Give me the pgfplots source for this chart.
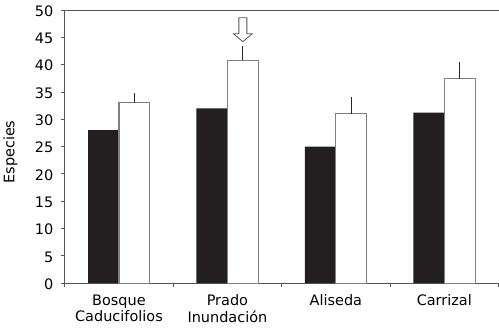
\documentclass[border=0pt]{standalone}
\usepackage{fontspec}
\setmainfont{DejaVu Sans}
\usepackage{pgfplots}
\pgfplotsset{compat=1.18}
\definecolor{barblack}{HTML}{231F20}
\definecolor{axisgray}{HTML}{555555}
\begin{document}
\begin{tikzpicture}
\begin{axis}[
  name=ax,
  scale only axis, width=435pt, height=274pt,
  xmin=0, xmax=4, ymin=0, ymax=50,
  axis y line*=left, axis x line*=box,
  xtick pos=left,
  axis line style={draw=axisgray, line width=0.9pt},
  every tick/.style={draw=axisgray, line width=0.9pt},
  tick align=outside, major tick length=4pt, minor tick length=4pt,
  ytick={0,5,...,50},
  yticklabel style={xshift=-4pt, yshift=-1pt},
  xtick={0.5,1.5,2.5,3.5},
  xticklabels={Bosque\\Caducifolios, Prado\\Inundación, Aliseda, Carrizal},
  minor xtick={0,1,2,3,4},
  every major x tick/.append style={draw=none},
  xticklabel style={align=center, anchor=north, yshift=-4pt},
  /pgf/number format/assume math mode=true,
  ticklabel style={font=\fontsize{14.5}{16.5}\selectfont},
  ylabel={Especies},
  ylabel style={font=\fontsize{14.5}{16.5}\selectfont, at={(axis description cs:0,0.48)}, anchor=south, yshift=44pt},
  clip=false,
]
\addplot[ybar, bar width=31pt, bar shift=0pt, fill=barblack, draw=none]
  coordinates {(0.3575,28) (1.3575,32) (2.3575,25) (3.3575,31.2)};
\addplot[ybar, bar width=31pt, bar shift=0pt, fill=white, draw=gray, line width=1.2pt,
  error bars/.cd, y dir=plus, y explicit, error mark=none,
  error bar style={draw=black!85, line width=1pt}]
  coordinates {(0.6425,33) +- (0,1.8) (1.6425,40.8) +- (0,2.6) (2.6425,31) +- (0,3.0) (3.6425,37.4) +- (0,3.0)};
\draw[draw=axisgray, fill=white, line width=0.8pt]
  (axis cs:1.6425,44.2) -- ++(-9.5pt,8pt) -- ++(5.5pt,0) -- ++(0,16pt) -- ++(8pt,0)
  -- ++(0,-16pt) -- ++(5.5pt,0) -- cycle;
\end{axis}
\path (ax.south west) ++(0,-44pt) (ax.north west) ++(0,10pt);
\end{tikzpicture}
\end{document}
